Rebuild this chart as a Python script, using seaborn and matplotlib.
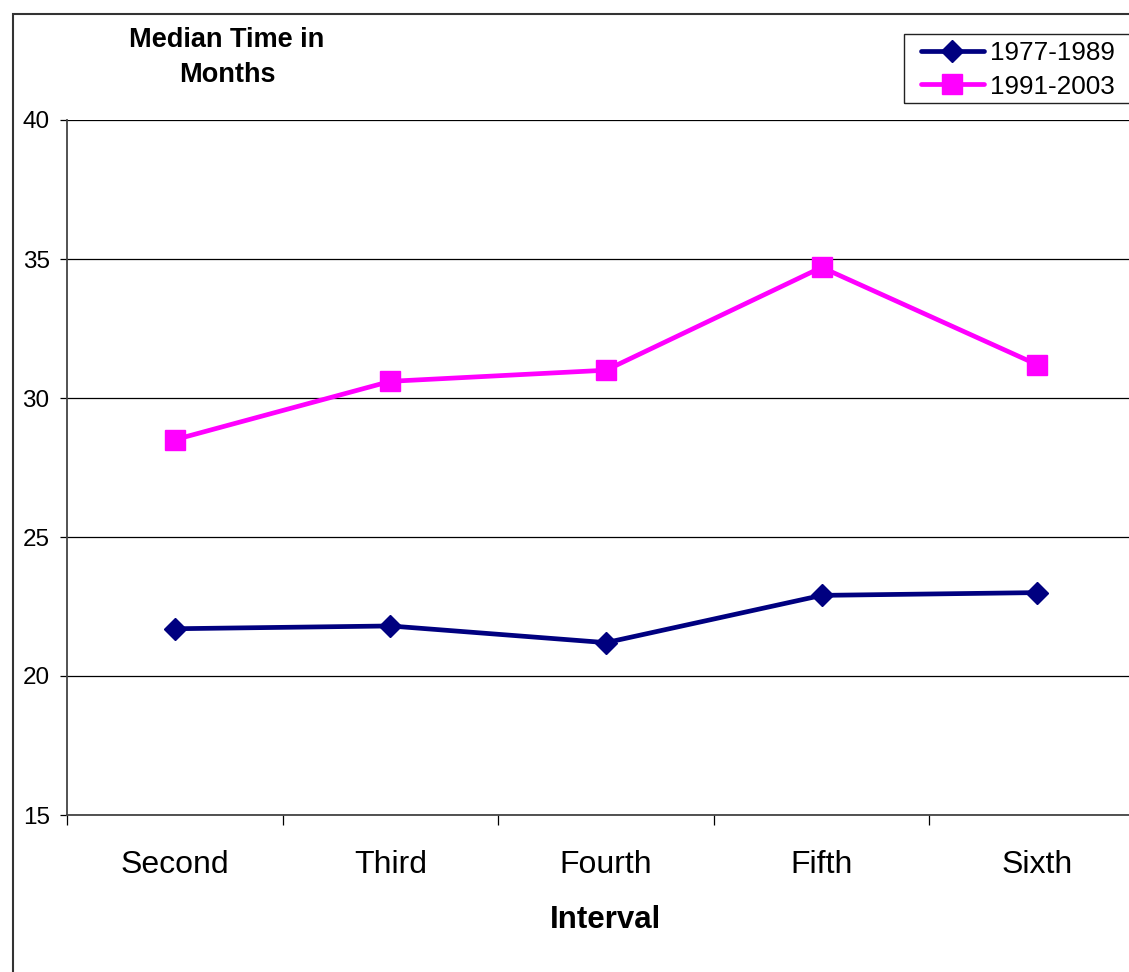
import matplotlib
matplotlib.use("Agg")
import matplotlib.pyplot as plt
from matplotlib.patches import Rectangle
from matplotlib.ticker import FixedLocator
import pandas as pd
import seaborn as sns

# Median time (months) per birth interval, by period
intervals = ["Second", "Third", "Fourth", "Fifth", "Sixth"]
period_labels = ["1977-1989", "1991-2003"]
median_1977_1989 = [21.7, 21.8, 21.2, 22.9, 23.0]
median_1991_2003 = [28.5, 30.6, 31.0, 34.7, 31.2]
y_ticks = [15, 20, 25, 30, 35, 40]

df = pd.DataFrame({
    "Interval": intervals * 2,
    "Months": median_1977_1989 + median_1991_2003,
    "Period": [period_labels[0]] * len(intervals) + [period_labels[1]] * len(intervals),
})

sns.set_style("white")
plt.rcParams["font.family"] = ["Liberation Sans", "DejaVu Sans"]
plt.rcParams["text.color"] = "black"
plt.rcParams["axes.labelcolor"] = "black"
plt.rcParams["xtick.color"] = "black"
plt.rcParams["ytick.color"] = "black"

W, H = 1129, 972
fig = plt.figure(figsize=(W / 100, H / 100), dpi=100)
ax = fig.add_axes([67 / W, (H - 815) / H, (1145 - 67) / W, (815 - 120) / H])

palette = {period_labels[0]: "#000080", period_labels[1]: "#FF00FF"}
markers = {period_labels[0]: "D", period_labels[1]: "s"}
sns.lineplot(data=df, x="Interval", y="Months", hue="Period", style="Period",
             palette=palette, markers=markers, dashes=False, sort=False,
             linewidth=3.4, legend=False, ax=ax)
for line, lab in zip(ax.lines, period_labels):
    line.set_markersize(11 if markers[lab] == "D" else 14.5)
    line.set_markeredgecolor(palette[lab])
    line.set_markerfacecolor(palette[lab])
    line.set_markeredgewidth(1)
    line.set_label(lab)
    line.set_zorder(4)

ax.set_xlim(-0.5, len(intervals) - 0.5)
ax.set_ylim(y_ticks[0], y_ticks[-1])
ax.set_yticks(y_ticks)
ax.yaxis.grid(True, color="black", linewidth=0.9)
ax.xaxis.grid(False)
ax.set_axisbelow(True)

ax.xaxis.set_minor_locator(FixedLocator([i - 0.5 for i in range(len(intervals) + 1)]))
ax.tick_params(axis="x", which="major", length=0, pad=25, labelsize=23, colors="black")
ax.tick_params(axis="x", which="minor", length=7.5, width=0.9, direction="out",
               bottom=True, color="black")
ax.tick_params(axis="y", which="major", length=5, width=0.9, direction="out",
               left=True, pad=7.5, labelsize=17.5, colors="black")

for side in ("top", "right"):
    ax.spines[side].set_visible(False)
for side in ("left", "bottom"):
    ax.spines[side].set_color("#444444")
    ax.spines[side].set_linewidth(1.3)

ax.set_xlabel("Interval", fontsize=22.5, fontweight="bold", labelpad=18, color="black")
ax.set_ylabel("")

fig.text(227 / W, 1 - 57.5 / H, "Median Time in\nMonths", ha="center", va="center",
         fontsize=19.5, fontweight="bold", linespacing=1.45, multialignment="center",
         color="black")

# chart area border and legend frame
fig.add_artist(Rectangle((12.5 / W, -0.1), 1.2, 1.1 - 14 / H, transform=fig.transFigure,
                         fill=False, edgecolor="#333333", linewidth=1.5))
fig.add_artist(Rectangle((904 / W, 1 - 103 / H), 0.3, 69 / H, transform=fig.transFigure,
                         fill=False, edgecolor="#222222", linewidth=1.0))

leg = ax.legend(handles=ax.lines[:2], labels=period_labels, loc="center left",
                bbox_to_anchor=(921 / W, 1 - 70 / H), bbox_transform=fig.transFigure,
                frameon=False, fontsize=18.8, borderpad=0, borderaxespad=0,
                handlelength=2.4, handletextpad=0.25, labelspacing=0.35)
for t in leg.get_texts():
    t.set_color("black")

fig.savefig("out.png", dpi=100)
